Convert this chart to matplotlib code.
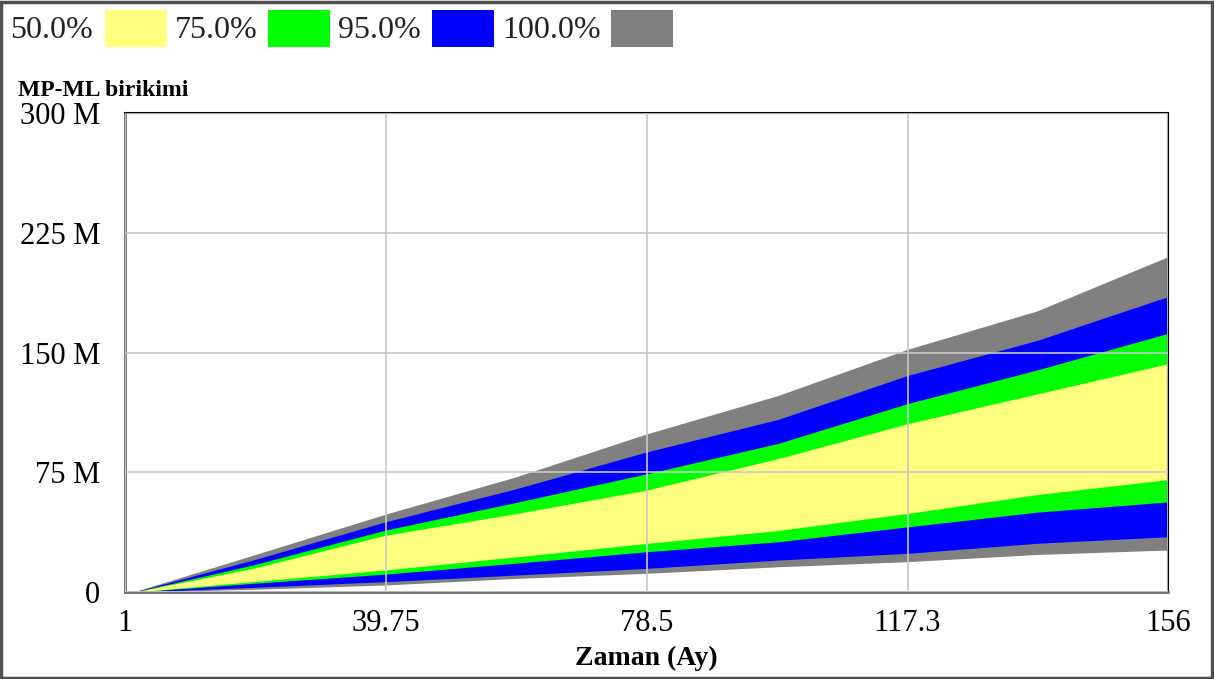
import matplotlib.pyplot as plt
from matplotlib.patches import Rectangle

plt.rcParams['font.family'] = ['Liberation Serif', 'DejaVu Serif']

# time (months) and percentile band edges (millions)
t = [1, 3, 20, 39.75, 59, 78.5, 98, 117.3, 136.5, 156]
hi100 = [0, 1.0, 23, 48.8, 72, 99, 123, 152, 176, 210]
hi95 = [0, 0.8, 20, 44, 64.5, 87.7, 108, 135.6, 157.5, 185]
hi75 = [0, 0.6, 16.9, 38.8, 56, 74, 93, 118, 139, 162]
hi50 = [0, 0.5, 14.8, 35.6, 49, 63.8, 83.5, 105.4, 124, 143]
lo50 = [0, 0.2, 6.5, 13.8, 22, 30.4, 38.5, 49.2, 61, 70.4]
lo75 = [0, 0.1, 5.4, 11.2, 18, 25.2, 31.4, 40.8, 50, 56.4]
lo95 = [0, 0, 2.9, 6.5, 10.6, 14.8, 20, 24.2, 30.5, 34.6]
lo100 = [0, 0, 1.7, 4.4, 8.5, 11.7, 15.8, 19, 23.5, 26.3]

band_labels = ["50.0%", "75.0%", "95.0%", "100.0%"]
band_colors = ["#FFFF80", "#00FF00", "#0000FF", "#808080"]

xticks = [1, 39.75, 78.5, 117.3, 156]
xtick_labels = ["1", "39.75", "78.5", "117.3", "156"]
yticks = [0, 75, 150, 225, 300]
ytick_labels = ["0", "75 M", "150 M", "225 M", "300 M"]

W, H = 1214, 679
fig = plt.figure(figsize=(W / 100, H / 100), dpi=100)
ax = fig.add_axes([125 / W, 1 - 592 / H, (1168 - 125) / W, (592 - 113) / H])

# widest band first, narrower ones on top
ax.fill_between(t, lo100, hi100, color=band_colors[3], lw=0)
ax.fill_between(t, lo95, hi95, color=band_colors[2], lw=0)
ax.fill_between(t, lo75, hi75, color=band_colors[1], lw=0)
ax.fill_between(t, lo50, hi50, color=band_colors[0], lw=0)

ax.set_xlim(1, 156)
ax.set_ylim(0, 300)
ax.set_xticks(xticks)
ax.set_xticklabels(xtick_labels, fontsize=22)
ax.set_yticks(yticks)
ax.set_yticklabels(ytick_labels, fontsize=22)
ax.tick_params(length=0)
ax.tick_params(axis="y", pad=18)
ax.tick_params(axis="x", pad=12)
ax.grid(True, color="#c8c8c8", lw=1.2)
ax.set_axisbelow(False)
for g in ax.get_xgridlines() + ax.get_ygridlines():
    g.set_zorder(0.5)

ax.spines["left"].set_color("#707070")
ax.spines["bottom"].set_color("#707070")
ax.spines["left"].set_linewidth(2)
ax.spines["bottom"].set_linewidth(2)
ax.spines["top"].set_color("black")
ax.spines["right"].set_color("black")
ax.spines["top"].set_linewidth(1.5)
ax.spines["right"].set_linewidth(1.5)

ax.set_xlabel("Zaman (Ay)", fontsize=20, fontweight="bold", labelpad=6)

fig.text(18 / W, 1 - 96 / H, "MP-ML birikimi", fontsize=17, fontweight="bold")

# legend row along the top
text_x = [10, 175, 338, 502]
swatch_x = [105, 268, 432, 611]
for lab, col, tx, sx in zip(band_labels, band_colors, text_x, swatch_x):
    fig.text(tx / W, 1 - 30 / H, lab, fontsize=23, va="center", color="#222222")
    fig.add_artist(Rectangle((sx / W, 1 - 47 / H), 62 / W, 37 / H,
                             transform=fig.transFigure, facecolor=col, edgecolor="none"))

# outer frame
fig.add_artist(Rectangle((1 / W, 1 / H), (W - 3) / W, (H - 3) / H,
                         transform=fig.transFigure, fill=False,
                         edgecolor="#505050", lw=2.5))

fig.savefig("out.png", dpi=100)
